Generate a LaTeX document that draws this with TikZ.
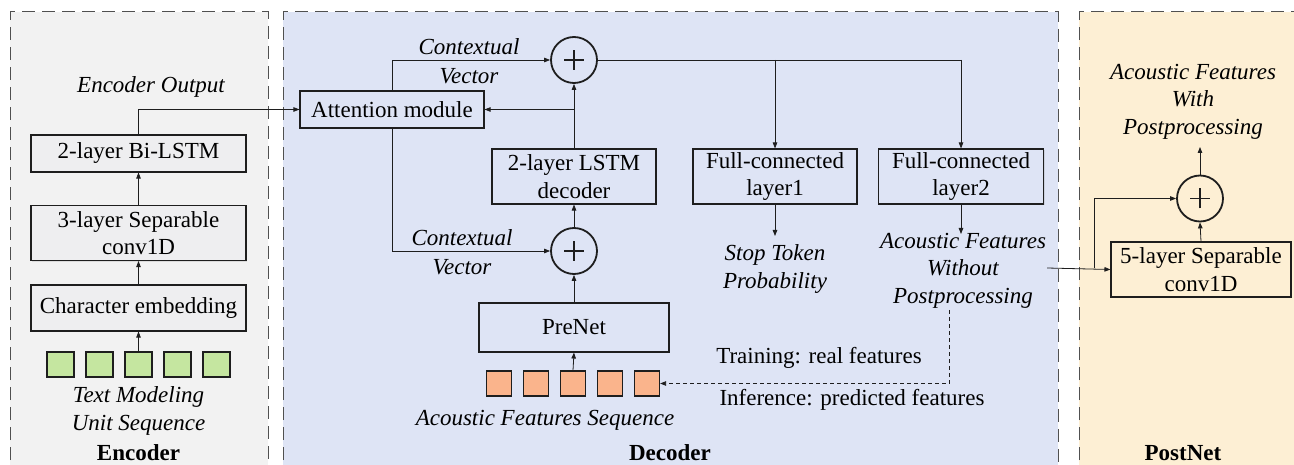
\documentclass[tikz,border=0pt]{standalone}
\usepackage{fontspec}
\setmainfont{Liberation Serif}
\usetikzlibrary{arrows.meta,shadows}
\definecolor{encbg}{RGB}{242,242,242}
\definecolor{encbox}{RGB}{238,238,240}
\definecolor{decbg}{RGB}{222,228,245}
\definecolor{postbg}{RGB}{253,239,212}
\definecolor{sqgreen}{RGB}{197,230,160}
\definecolor{sqorange}{RGB}{250,180,140}
\definecolor{ink}{RGB}{30,30,30}
\definecolor{panelline}{RGB}{80,80,80}
\newcommand{\bigfont}{\fontsize{23}{27.5}\selectfont}
\tikzset{
  panel/.style={draw=panelline, line width=1pt, dash pattern=on 13pt off 7pt},
  box/.style={draw=ink, line width=1.1pt, rectangle, inner sep=0pt, align=center,
     drop shadow={shadow xshift=1.2pt, shadow yshift=-1.2pt, opacity=0.2, fill=gray}},
  sqbox/.style={draw=ink, line width=1.2pt, rectangle, inner sep=0pt, minimum width=#1, minimum height=25pt},
  lbl/.style={align=center, inner sep=0pt, font=\bigfont},
  itl/.style={align=center, inner sep=0pt, font=\bigfont\itshape},
  bld/.style={align=center, inner sep=0pt, font=\bigfont\bfseries},
  arr/.style={draw=ink, line width=0.8pt, -{Triangle[length=6pt,width=4.5pt]}},
  ln/.style={draw=ink, line width=0.8pt},
  plussym/.style={circle, draw=ink, line width=1.8pt, minimum size=46pt, inner sep=0pt,
     path picture={\draw[ink, line width=#1]
       ([xshift=-10pt]path picture bounding box.center) -- ([xshift=10pt]path picture bounding box.center)
       ([yshift=-10pt]path picture bounding box.center) -- ([yshift=10pt]path picture bounding box.center);}},
}
\begin{document}
\begin{tikzpicture}[x=1pt,y=-1pt, font=\bigfont]
\useasboundingbox (0,0) rectangle (1294,465);
\clip (0,0) rectangle (1294,465);
\fill[white] (0,0) rectangle (1294,465);
% panels
\fill[encbg] (10,12) rectangle (268,480);
\draw[panel] (10,480) -- (10,12) -- (268,12) -- (268,480);
\fill[decbg] (283,12) rectangle (1058,480);
\draw[panel] (283,480) -- (283,12) -- (1058,12) -- (1058,480);
\fill[postbg] (1079,12) rectangle (1310,480);
\draw[panel] (1079,480) -- (1079,12) -- (1310,12);

% Encoder
\node[box, fill=encbox, minimum width=215pt, minimum height=37pt] (bilstm) at (138.5,153.5) {2-layer Bi-LSTM};
\node[box, fill=encbox, minimum width=215pt, minimum height=55pt] (conv3) at (138.5,233) {3-layer Separable\\conv1D};
\node[box, fill=encbox, minimum width=215pt, minimum height=46pt] (charemb) at (138.5,308) {Character embedding};
\foreach \i in {1,...,5} {
  \node[sqbox=27pt, fill=sqgreen] (g\i) at ({60.5+39*(\i-1)},364.5) {};
}
\node[itl] (textunit) at (138.5,411) {Text Modeling\\Unit Sequence};
\node[bld] (enclabel) at (138.5,453) {Encoder};
\node[itl] (encout) at (151,87) {Encoder Output};

% Decoder
\node[box, fill=decbg, minimum width=184pt, minimum height=37pt] (attn) at (392,109.5) {Attention module};
\node[plussym=2.2pt] (plus1) at (574,60) {};
\node[box, fill=decbg, minimum width=164pt, minimum height=55pt] (lstm) at (574,176.5) {2-layer LSTM\\decoder};
\node[plussym=2.2pt] (plus2) at (574,251) {};
\node[box, fill=decbg, minimum width=190pt, minimum height=49pt] (prenet) at (574,327.5) {PreNet};
\foreach \i in {1,...,5} {
  \node[sqbox=25pt, fill=sqorange] (o\i) at ({499+37*(\i-1)},383.5) {};
}
\node[box, fill=decbg, minimum width=164pt, minimum height=55pt] (fc1) at (775,176.5) {Full-connected\\layer1};
\node[box, fill=decbg, minimum width=165pt, minimum height=55pt] (fc2) at (961,176.5) {Full-connected\\layer2};
\node[itl] (ctxa1) at (469,47) {Contextual};
\node[itl] (ctxa2) at (469,76) {Vector};
\node[itl] (ctxb1) at (462,238) {Contextual};
\node[itl] (ctxb2) at (462,267) {Vector};
\node[itl] (stoptok) at (775,269) {Stop Token\\Probability};
\node[itl] (afwo) at (963,270.5) {Acoustic Features\\Without\\Postprocessing};
\node[itl] (afseq) at (545,420) {Acoustic Features Sequence};
\node[lbl] (train) at (819,358) {Training: real features};
\node[lbl] (infer) at (852,400) {Inference: predicted features};
\node[bld] (declabel) at (670,453) {Decoder};

% PostNet
\node[box, fill=postbg, minimum width=180pt, minimum height=55pt] (conv5) at (1201,269.5) {5-layer Separable\\conv1D};
\node[plussym=1.2pt] (plus3) at (1200,198.5) {};
\node[itl] (afwith) at (1193,101.5) {Acoustic Features\\With\\Postprocessing};
\node[bld] (postlabel) at (1183,453) {PostNet};

% coordinates
\coordinate (stopin) at (775,236);
\coordinate (afin) at (961,234);
\coordinate (afout) at (1047,268);
\coordinate (branch) at (1094,268);
\coordinate (finalout) at (1200,147);
\coordinate (dashstart) at (949,310);
\coordinate (dashcorner) at (949,383.5);

% Encoder connectors
\draw[arr] (g3.north) -- (charemb.south);
\draw[arr] (charemb.north) -- (conv3.south);
\draw[arr] (conv3.north) -- (bilstm.south);
\draw[arr] (bilstm.north) |- (attn.west);

% Decoder connectors
\draw[arr] (attn.north) |- (plus1.west);
\draw[arr] (attn.south) |- (plus2.west);
\draw[arr] (lstm.north) -- (plus1.south);
\draw[arr] (lstm.north |- attn.east) -- (attn.east);
\draw[arr] (plus2.north) -- (lstm.south);
\draw[arr] (prenet.north) -- (plus2.south);
\draw[arr] (o3.north) -- (prenet.south);
\draw[ln] (plus1.east) -- (fc2.north |- plus1.east);
\draw[arr] (fc2.north |- plus1.east) -- (fc2.north);
\draw[arr] (fc1.north |- plus1.east) -- (fc1.north);
\draw[arr] (fc1.south) -- (stopin);
\draw[arr] (fc2.south) -- (afin);
\draw[ln, dash pattern=on 4pt off 3pt, -{Triangle[length=6pt,width=4.5pt]}] (dashstart) -- (dashcorner) -- (o5.east);

% PostNet connectors
\draw[arr] (afout) -- (conv5.west);
\draw[arr] (branch) |- (plus3.west);
\draw[arr] (conv5.north) -- (plus3.south);
\draw[arr] (plus3.north) -- (finalout);
\end{tikzpicture}
\end{document}
